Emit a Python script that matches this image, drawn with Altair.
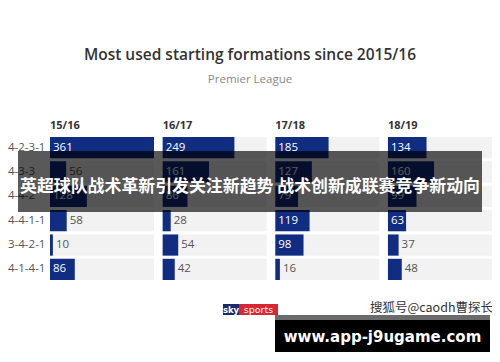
import altair as alt
import pandas as pd

formations = ["4-2-3-1", "4-3-3", "4-4-2", "4-4-1-1", "3-4-2-1", "4-1-4-1"]
seasons = ["15/16", "16/17", "17/18", "18/19"]
v1516 = [361, 56, 128, 58, 10, 86]
v1617 = [249, 161, 86, 28, 54, 42]
v1718 = [185, 127, 79, 119, 98, 16]
v1819 = [134, 160, 99, 63, 37, 48]
season_values = [v1516, v1617, v1718, v1819]

title_text = "Most used starting formations since 2015/16"
subtitle_text = "Premier League"
banner_text = "英超球队战术革新引发关注新趋势 战术创新成联赛竞争新动向"
sohu_text = "搜狐号@caodh曹探长"
site_text = "www.app-j9ugame.com"

PITCH = 391  # data units between panels
MAXV = max(v1516)

rows = []
for i, (s, vals) in enumerate(zip(seasons, season_values)):
    for f, v in zip(formations, vals):
        rows.append({"season": s, "idx": i, "formation": f, "value": v})
df = pd.DataFrame(rows)
hdr = pd.DataFrame({"season": seasons, "idx": list(range(len(seasons)))})
one = pd.DataFrame({"a": [0]})

FONT = "Open Sans"
xscale = alt.Scale(domain=[-145.8, 1534.2], nice=False, zero=False)
yscale = alt.Scale(domain=formations, range=[129, 272], paddingInner=0.13, paddingOuter=0)

base = alt.Chart(df).transform_calculate(
    start=f"datum.idx * {PITCH}",
    bgend=f"datum.idx * {PITCH} + {MAXV}",
    end=f"datum.idx * {PITCH} + datum.value",
    labx=f"datum.value >= 60 ? datum.idx * {PITCH} : datum.idx * {PITCH} + datum.value",
)

bg = base.mark_bar(color="#f2f2f2").encode(
    x=alt.X("start:Q", scale=xscale, axis=None),
    x2="bgend:Q",
    y=alt.Y("formation:N", sort=formations, scale=yscale, axis=None),
)
bars = base.mark_bar(color="#102d82").encode(
    x=alt.X("start:Q", scale=xscale, axis=None),
    x2="end:Q",
    y=alt.Y("formation:N", sort=formations, scale=yscale, axis=None),
)
vals = base.mark_text(align="left", baseline="middle", dx=3, font=FONT, fontSize=11.5).encode(
    x=alt.X("labx:Q", scale=xscale, axis=None),
    y=alt.Y("formation:N", sort=formations, scale=yscale, axis=None),
    text="value:Q",
    color=alt.condition(alt.datum.value >= 60, alt.value("white"), alt.value("#555555")),
)
rowlab = alt.Chart(pd.DataFrame({"formation": formations})).mark_text(
    align="left", baseline="middle", font=FONT, fontSize=11.5, color="#555555"
).encode(
    x=alt.value(0),
    y=alt.Y("formation:N", sort=formations, scale=yscale, axis=None),
    text="formation:N",
)
header = alt.Chart(hdr).transform_calculate(hx=f"datum.idx * {PITCH}").mark_text(
    align="left", baseline="middle", font=FONT, fontSize=11, fontWeight="bold", color="#333333"
).encode(
    x=alt.X("hx:Q", scale=xscale, axis=None),
    y=alt.value(118),
    text="season:N",
)

title = alt.Chart(pd.DataFrame({"t": [title_text]})).mark_text(
    align="center", baseline="middle", font=FONT, fontSize=15.5, fontWeight=600, color="#333333"
).encode(x=alt.value(242), y=alt.value(46.5), text="t:N")
subtitle = alt.Chart(pd.DataFrame({"t": [subtitle_text]})).mark_text(
    align="center", baseline="middle", font=FONT, fontSize=11.5, color="#888888"
).encode(x=alt.value(242), y=alt.value(71.5), text="t:N")

banner = alt.Chart(one).mark_rect(color="black", opacity=0.65).encode(
    x=alt.value(10), x2=alt.value(474), y=alt.value(143), y2=alt.value(204)
)
banner_t = alt.Chart(pd.DataFrame({"t": [banner_text]})).mark_text(
    align="center", baseline="middle", font="Noto Sans CJK SC", fontSize=16.9, fontWeight="bold", color="white"
).encode(x=alt.value(242), y=alt.value(179), text="t:N")

sky_b = alt.Chart(one).mark_rect(color="#1b2a6b").encode(
    x=alt.value(215), x2=alt.value(231), y=alt.value(296), y2=alt.value(307)
)
sky_r = alt.Chart(one).mark_rect(color="#d62733").encode(
    x=alt.value(231), x2=alt.value(270), y=alt.value(296), y2=alt.value(307)
)
sky_t1 = alt.Chart(pd.DataFrame({"t": ["sky"]})).mark_text(
    align="center", baseline="middle", font="DejaVu Sans", fontSize=8.5, fontWeight="bold", color="white"
).encode(x=alt.value(223), y=alt.value(301.5), text="t:N")
sky_t2 = alt.Chart(pd.DataFrame({"t": ["sports"]})).mark_text(
    align="center", baseline="middle", font="DejaVu Sans", fontSize=9.5, color="white"
).encode(x=alt.value(250.5), y=alt.value(301.5), text="t:N")

sohu = alt.Chart(pd.DataFrame({"t": [sohu_text]})).mark_text(
    align="left", baseline="middle", font="Noto Sans CJK SC", fontSize=12.5, color="#333333"
).encode(x=alt.value(362), y=alt.value(300), text="t:N")

strip = alt.Chart(one).mark_rect(color="#6b6b6b").encode(
    x=alt.value(267), x2=alt.value(482), y=alt.value(307), y2=alt.value(312)
)
blackbox = alt.Chart(one).mark_rect(color="black").encode(
    x=alt.value(267), x2=alt.value(482), y=alt.value(312), y2=alt.value(344)
)
site = alt.Chart(pd.DataFrame({"t": [site_text]})).mark_text(
    align="center", baseline="middle", font="DejaVu Sans", fontSize=15, fontWeight="bold", color="white"
).encode(x=alt.value(374.5), y=alt.value(329), text="t:N")

chart = alt.layer(
    bg, bars, vals, rowlab, header, title, subtitle,
    banner, banner_t, sky_b, sky_r, sky_t1, sky_t2, sohu, strip, blackbox, site,
).properties(
    width=484, height=346, autosize=alt.AutoSizeParams(type="none"), padding=0
).configure_view(stroke=None)

chart.save("out.html", embed_options={"renderer": "svg", "actions": False})
